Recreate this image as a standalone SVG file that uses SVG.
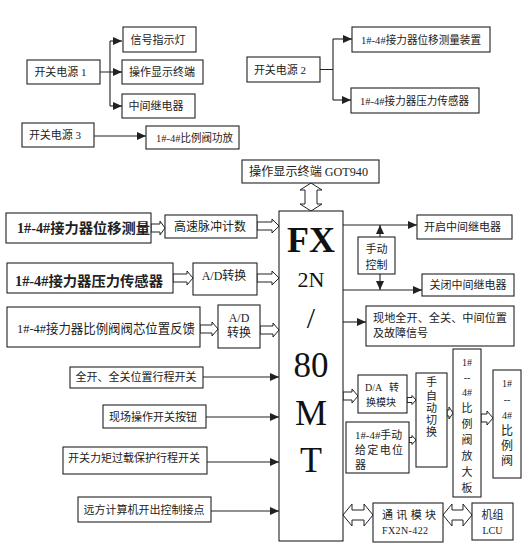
<svg xmlns="http://www.w3.org/2000/svg" width="530" height="544" viewBox="0 0 530 544">
<defs>
<style>
.b{fill:#fff;stroke:#222;stroke-width:1.1}
.t{font-family:"Liberation Serif","Noto Sans CJK SC",serif;font-size:11px;fill:#222}
.m{text-anchor:middle}
.bd{font-weight:bold;font-size:14px}
.ln{fill:none;stroke:#222;stroke-width:1.1}
.ha{fill:#fff;stroke:#222;stroke-width:1}
.fx{font-family:"Liberation Serif",serif;fill:#111;text-anchor:middle}
</style>
<marker id="ar" markerUnits="userSpaceOnUse" markerWidth="10" markerHeight="10" refX="9" refY="4" orient="auto">
<path d="M0,0 L9,4 L0,8 Z" fill="#222"/>
</marker>
</defs>
<rect width="530" height="544" fill="#fff"/>

<g id="connectors">
<path class="ln" d="M100,72 H110 M110,41 V106"/>
<path class="ln" marker-end="url(#ar)" d="M110,41 H122"/>
<path class="ln" marker-end="url(#ar)" d="M110,72 H122"/>
<path class="ln" marker-end="url(#ar)" d="M110,106 H122"/>
<path class="ln" d="M320,69.5 H333 M333,39 V100"/>
<path class="ln" marker-end="url(#ar)" d="M333,39 H352"/>
<path class="ln" marker-end="url(#ar)" d="M333,100 H351"/>
<path class="ln" marker-end="url(#ar)" d="M94,136 H146"/>
<path class="ln" marker-end="url(#ar)" d="M343,225 H417"/>
<path class="ln" marker-end="url(#ar)" d="M380,237 V225"/>
<path class="ln" marker-end="url(#ar)" d="M380,274 V290"/>
<path class="ln" marker-end="url(#ar)" d="M343,290 H422"/>
<path class="ln" marker-end="url(#ar)" d="M343,322 H366"/>
<path class="ln" marker-end="url(#ar)" d="M203,377 H279"/>
<path class="ln" marker-end="url(#ar)" d="M206,417 H279"/>
<path class="ln" marker-end="url(#ar)" d="M207,462 H279"/>
<path class="ln" marker-end="url(#ar)" d="M211,511 H279"/>
<!-- hollow block arrows -->
<path class="ha" d="M151,224 H160 V221 L165,228 L160,235 V232 H151 Z"/>
<path class="ha" d="M257,222 H272 V219 L279,226 L272,233 V230 H257 Z"/>
<path class="ha" d="M173,274 H187 V271 L193,278 L187,285 V282 H173 Z"/>
<path class="ha" d="M257,274 H272 V271 L279,278 L272,285 V282 H257 Z"/>
<path class="ha" d="M200,325 H212 V322 L218,329 L212,336 V333 H200 Z"/>
<path class="ha" d="M260,326 H273 V323 L279,330 L273,337 V334 H260 Z"/>
<path class="ha" d="M343,392 H352 V389 L358,396 L352,403 V400 H343 Z"/>
<path class="ha" d="M407,397.5 H412 V395.5 L416,400 L412,404.5 V402.5 H407 Z"/>
<path class="ha" d="M409,437.5 H412 V435.5 L416,440 L412,444.5 V442.5 H409 Z"/>
<path class="ha" d="M447,410 H449 V407 L453,413 L449,419 V416 H447 Z"/>
<path class="ha" d="M481,414 H487 V411 L493,418 L487,425 V422 H481 Z"/>
<!-- double arrows -->
<path class="ha" d="M311,183 L322,190 H317 V204 H322 L311,211 L300,204 H305 V190 H300 Z"/>
<path class="ha" d="M343,515 L352,504 V510 H364 V504 L373,515 L364,526 V520 H352 V526 Z"/>
<path class="ha" d="M443,515 L452,504 V510 H463 V504 L472,515 L463,526 V520 H452 V526 Z"/>
</g>

<g id="psu1"><rect class="b" x="27" y="60" width="73" height="24"/><text class="t m" x="60.5" y="76">开关电源 1</text></g>
<g id="signal-lamp"><rect class="b" x="123" y="27" width="73" height="25"/><text class="t m" x="158" y="44">信号指示灯</text></g>
<g id="op-display"><rect class="b" x="122" y="60" width="81" height="24"/><text class="t m" x="162" y="76">操作显示终端</text></g>
<g id="relay"><rect class="b" x="122" y="94" width="73" height="24"/><text class="t m" x="156" y="110">中间继电器</text></g>
<g id="psu3"><rect class="b" x="22" y="123" width="72" height="24"/><text class="t m" x="55" y="139">开关电源 3</text></g>
<g id="valve-amp-top"><rect class="b" x="146" y="126" width="93" height="23"/><text class="t" x="156" y="141.5" textLength="77" lengthAdjust="spacingAndGlyphs">1#-4#比例阀功放</text></g>
<g id="psu2"><rect class="b" x="247" y="57" width="73" height="25"/><text class="t m" x="280" y="73.5">开关电源 2</text></g>
<g id="disp-device"><rect class="b" x="352" y="27" width="138" height="25"/><text class="t" x="361" y="43.5" textLength="120" lengthAdjust="spacingAndGlyphs">1#-4#接力器位移测量装置</text></g>
<g id="press-sensor-top"><rect class="b" x="351" y="88" width="128" height="25"/><text class="t" x="360" y="104.5" textLength="109" lengthAdjust="spacingAndGlyphs">1#-4#接力器压力传感器</text></g>

<g id="got940"><rect class="b" x="242" y="160" width="137" height="23"/><text class="t" x="249" y="176" style="font-size:12px" textLength="119" lengthAdjust="spacingAndGlyphs">操作显示终端 GOT940</text></g>
<g id="disp-meas"><rect class="b" x="6" y="213" width="145" height="30"/><text class="t bd" x="17" y="233" textLength="133" lengthAdjust="spacingAndGlyphs">1#-4#接力器位移测量</text></g>
<g id="hs-counter"><rect class="b" x="165" y="215" width="92" height="23"/><text class="t m" x="210" y="231" style="font-size:12px">高速脉冲计数</text></g>
<g id="press-sensor"><rect class="b" x="7" y="263" width="166" height="30"/><text class="t bd" x="15" y="286" textLength="148" lengthAdjust="spacingAndGlyphs">1#-4#接力器压力传感器</text></g>
<g id="ad1"><rect class="b" x="193" y="263" width="64" height="32"/><text class="t m" x="224" y="280" style="font-size:12px">A/D转换</text></g>
<g id="spool-fb"><rect class="b" x="7" y="307" width="193" height="40"/><text class="t" x="17" y="333" style="font-size:13px" textLength="178" lengthAdjust="spacingAndGlyphs">1#-4#接力器比例阀阀芯位置反馈</text></g>
<g id="ad2"><rect class="b" x="218" y="305" width="42" height="43"/><text class="t m" x="239" y="322" style="font-size:12px">A/D</text><text class="t m" x="239" y="337" style="font-size:12px">转换</text></g>

<g id="plc"><rect class="b" x="279" y="211" width="64" height="330"/>
<text class="fx" x="311" y="252" style="font-size:36px;font-weight:bold">FX</text>
<text class="fx" x="311" y="287" style="font-size:22px">2N</text>
<text class="fx" x="311" y="328" style="font-size:30px">/</text>
<text class="fx" x="311" y="377" style="font-size:35px">80</text>
<text class="fx" x="311" y="425" style="font-size:36px">M</text>
<text class="fx" x="311" y="472" style="font-size:36px">T</text>
</g>

<g id="open-relay"><rect class="b" x="417" y="215" width="95" height="24"/><text class="t m" x="462.5" y="231">开启中间继电器</text></g>
<g id="manual-ctrl"><rect class="b" x="358" y="237" width="37" height="37"/><text class="t m" x="376.5" y="253">手动</text><text class="t m" x="376.5" y="269">控制</text></g>
<g id="close-relay"><rect class="b" x="422" y="274" width="92" height="22"/><text class="t m" x="468" y="289">关闭中间继电器</text></g>
<g id="local-signal"><rect class="b" x="366" y="306" width="148" height="40"/><text class="t" x="373" y="322" textLength="134" lengthAdjust="spacingAndGlyphs">现地全开、全关、中间位置</text><text class="t" x="373" y="337">及故障信号</text></g>

<g id="limit-sw"><rect class="b" x="70" y="367" width="133" height="21"/><text class="t m" x="136" y="381">全开、全关位置行程开关</text></g>
<g id="local-btn"><rect class="b" x="103" y="405" width="103" height="23"/><text class="t m" x="153" y="421">现场操作开关按钮</text></g>
<g id="torque-sw"><rect class="b" x="63" y="447" width="144" height="27"/><text class="t m" x="134" y="462">开关力矩过载保护行程开关</text></g>
<g id="remote"><rect class="b" x="78" y="497" width="133" height="25"/><text class="t m" x="144" y="514">远方计算机开出控制接点</text></g>

<g id="da"><rect class="b" x="358" y="375" width="49" height="38"/><text class="t" x="365" y="391" style="font-size:10px">D/A</text><text class="t" x="389" y="391" style="font-size:10px">转</text><text class="t" x="366" y="406" style="font-size:10px">换模块</text></g>
<g id="manual-pot"><rect class="b" x="346" y="422" width="63" height="51"/><text class="t" x="355" y="439" textLength="47" lengthAdjust="spacingAndGlyphs">1#-4#手动</text><text class="t" x="355" y="454" textLength="48" lengthAdjust="spacing">给定电位</text><text class="t" x="355" y="469">器</text></g>
<g id="am-switch"><rect class="b" x="416" y="373" width="31" height="94"/>
<text class="t m" x="431.5" y="386">手</text><text class="t m" x="431.5" y="400">自</text><text class="t m" x="431.5" y="412">动</text><text class="t m" x="431.5" y="424">切</text><text class="t m" x="431.5" y="436">换</text></g>
<g id="valve-amp"><rect class="b" x="453" y="349" width="28" height="148"/>
<text class="t m" x="467" y="366" style="font-size:10px">1#</text><text class="t m" x="467" y="381" style="font-size:10px">--</text><text class="t m" x="467" y="396" style="font-size:10px">4#</text>
<text class="t m" x="467" y="412">比</text><text class="t m" x="467" y="428">例</text><text class="t m" x="467" y="444">阀</text><text class="t m" x="467" y="460">放</text><text class="t m" x="467" y="476">大</text><text class="t m" x="467" y="492">板</text></g>
<g id="valve"><rect class="b" x="493" y="370" width="28" height="108"/>
<text class="t m" x="507" y="387" style="font-size:10px">1#</text><text class="t m" x="507" y="403" style="font-size:10px">--</text><text class="t m" x="507" y="419" style="font-size:10px">4#</text>
<text class="t m" x="507" y="435" style="font-size:12px">比</text><text class="t m" x="507" y="450" style="font-size:12px">例</text><text class="t m" x="507" y="465" style="font-size:12px">阀</text></g>
<g id="comm"><rect class="b" x="373" y="503" width="70" height="39"/><text class="t" x="382" y="519" textLength="54" lengthAdjust="spacing">通讯模块</text><text class="t" x="382" y="534" textLength="46" lengthAdjust="spacing" style="font-size:10px">FX2N-422</text></g>
<g id="lcu"><rect class="b" x="472" y="503" width="41" height="37"/><text class="t m" x="492.5" y="519">机组</text><text class="t m" x="492.5" y="534" style="font-size:10px">LCU</text></g>
</svg>
